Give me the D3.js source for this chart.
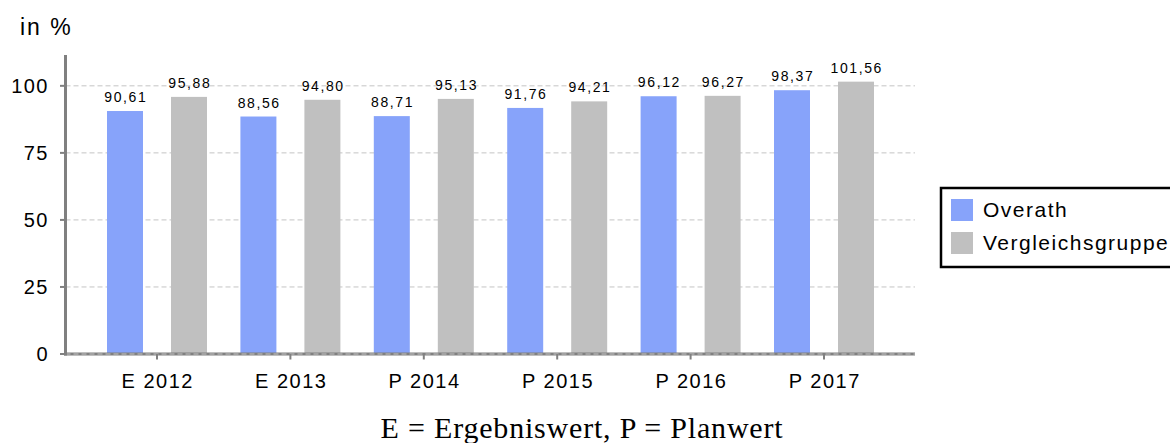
<!DOCTYPE html>
<html>
<head>
<meta charset="utf-8">
<script src="https://cdn.jsdelivr.net/npm/d3@7"></script>
<style>
  html, body { margin: 0; padding: 0; background: #fff; }
  svg { display: block; }
  text { font-family: "Liberation Sans", Arial, sans-serif; fill: #000; }
</style>
</head>
<body>
<svg id="chart" width="1170" height="443"></svg>
<script>
const categories = ["E 2012", "E 2013", "P 2014", "P 2015", "P 2016", "P 2017"];
const seriesNames = ["Overath", "Vergleichsgruppe"];
const overath = [90.61, 88.56, 88.71, 91.76, 96.12, 98.37];
const vergleich = [95.88, 94.80, 95.13, 94.21, 96.27, 101.56];
const yTicks = [0, 25, 50, 75, 100];
const yMax = 111.5;
const colors = ["#87a3fa", "#c0c0c0"];
const unitLabel = "in %";
const footnote = "E = Ergebniswert, P = Planwert";

const fmt = v => v.toFixed(2).replace(".", ",");
const seriesValues = [overath, vergleich];

const svg = d3.select("#chart");

const axisLeft = 65.5, axisRight = 915;
const y = d3.scaleLinear().domain([0, yMax]).range([354, 55]);
const x0 = d3.scaleBand().domain(categories).range([90.3, 890.7]).paddingInner(0).paddingOuter(0);
const x1 = d3.scaleBand().domain(seriesNames).range([0, x0.bandwidth()]).paddingInner(0.4375).paddingOuter(0.261);

// gridlines
svg.append("g").selectAll("line").data(yTicks).join("line")
  .attr("x1", axisLeft).attr("x2", axisRight)
  .attr("y1", d => y(d)).attr("y2", d => y(d))
  .attr("stroke", "#c4c4c4").attr("stroke-width", 1)
  .attr("stroke-dasharray", "5,3");

// bars
const groups = svg.append("g").selectAll("g").data(categories).join("g")
  .attr("transform", d => `translate(${x0(d)},0)`);

groups.selectAll("rect").data((c, i) => seriesNames.map((s, j) => ({ s, v: seriesValues[j][i], j })))
  .join("rect")
  .attr("x", d => x1(d.s))
  .attr("width", x1.bandwidth())
  .attr("y", d => y(d.v))
  .attr("height", d => y(0) - y(d.v))
  .attr("fill", d => colors[d.j]);

groups.selectAll("text.val").data((c, i) => seriesNames.map((s, j) => ({ s, v: seriesValues[j][i], j })))
  .join("text").attr("class", "val")
  .attr("x", d => x1(d.s) + x1.bandwidth() / 2 + 0.8)
  .attr("y", d => y(d.v) - 9)
  .attr("text-anchor", "middle")
  .style("font-size", "14px")
  .style("letter-spacing", "1.6px")
  .text(d => fmt(d.v));

// x axis
const xAxisG = svg.append("g");
xAxisG.append("line")
  .attr("x1", axisLeft - 1.5).attr("x2", axisRight)
  .attr("y1", y(0)).attr("y2", y(0))
  .attr("stroke", "#808080").attr("stroke-width", 3);
xAxisG.append("line")
  .attr("x1", axisLeft).attr("x2", axisRight)
  .attr("y1", y(0)).attr("y2", y(0))
  .attr("stroke", "#c4c4c4").attr("stroke-width", 1)
  .attr("stroke-dasharray", "5,3");
xAxisG.selectAll("line.tick").data(categories).join("line").attr("class", "tick")
  .attr("x1", d => x0(d) + x0.bandwidth() / 2).attr("x2", d => x0(d) + x0.bandwidth() / 2)
  .attr("y1", y(0)).attr("y2", y(0) + 5.5)
  .attr("stroke", "#808080").attr("stroke-width", 2);
xAxisG.selectAll("text").data(categories).join("text")
  .attr("x", d => x0(d) + x0.bandwidth() / 2 + 0.8)
  .attr("y", 388)
  .attr("text-anchor", "middle")
  .style("font-size", "20px")
  .style("letter-spacing", "1.5px")
  .text(d => d);

// y axis
const yAxisG = svg.append("g");
yAxisG.append("line")
  .attr("x1", axisLeft).attr("x2", axisLeft)
  .attr("y1", y(yMax)).attr("y2", y(0) + 1.5)
  .attr("stroke", "#808080").attr("stroke-width", 3);
yAxisG.selectAll("line.tick").data(yTicks).join("line").attr("class", "tick")
  .attr("x1", 60).attr("x2", axisLeft)
  .attr("y1", d => y(d)).attr("y2", d => y(d))
  .attr("stroke", "#808080").attr("stroke-width", 2);
yAxisG.selectAll("text").data(yTicks).join("text")
  .attr("x", 49)
  .attr("y", d => y(d) + 7)
  .attr("text-anchor", "end")
  .style("font-size", "20px")
  .style("letter-spacing", "1.5px")
  .text(d => d);

// unit label
svg.append("text")
  .attr("x", 20).attr("y", 35)
  .style("font-size", "23px")
  .style("letter-spacing", "2px")
  .text(unitLabel);

// legend
const leg = svg.append("g");
leg.append("rect")
  .attr("x", 941).attr("y", 188)
  .attr("width", 260).attr("height", 79)
  .attr("fill", "#fff").attr("stroke", "#000").attr("stroke-width", 2.5);
seriesNames.forEach((s, i) => {
  leg.append("rect")
    .attr("x", 951).attr("y", 199 + i * 33)
    .attr("width", 22).attr("height", 22)
    .attr("fill", colors[i]);
  leg.append("text")
    .attr("x", 983).attr("y", 217 + i * 33)
    .style("font-size", "21px")
    .style("letter-spacing", "1.5px")
    .text(s);
});

// footnote
svg.append("text")
  .attr("x", 582).attr("y", 438)
  .attr("text-anchor", "middle")
  .style("font-family", "'Liberation Serif', 'Times New Roman', serif")
  .style("font-size", "30px")
  .style("letter-spacing", "0.8px")
  .text(footnote);
</script>
</body>
</html>
